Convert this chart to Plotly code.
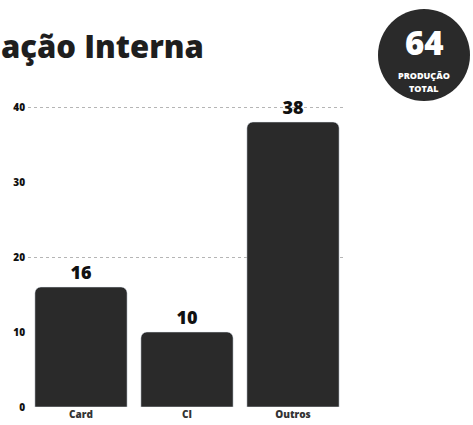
import plotly.graph_objects as go

categories = ["Card", "CI", "Outros"]
values = [16, 10, 38]
y_ticks = [0, 10, 20, 30, 40]
grid_vals = [20, 40]
total_value = 64
title_text = "ação Interna"
badge_line1 = "PRODUÇÃO"
badge_line2 = "TOTAL"

W, H = 473, 425
L, R, T, B = 28, 127, 104, 18
pw, ph = W - L - R, H - T - B

def px_x(px):
    return (px - L) / pw

def px_y(py):
    return (H - B - py) / ph

bar_color = "#2a2a2a"

fig = go.Figure(go.Bar(
    x=categories, y=values,
    marker=dict(color=bar_color, cornerradius=6),
    text=[str(v) for v in values],
    textposition="outside",
    textfont=dict(family="Open Sans", size=18, color="#111111", weight=800),
    cliponaxis=False,
))

fig.update_layout(
    width=W, height=H,
    margin=dict(l=L, r=R, t=T, b=B, autoexpand=False),
    paper_bgcolor="white", plot_bgcolor="white",
    bargap=0.13,
    showlegend=False,
    font=dict(family="Open Sans"),
    xaxis=dict(showgrid=False, showline=False, ticks="", automargin=False,
               tickfont=dict(size=10, color="#333333", family="Open Sans", weight=800)),
    yaxis=dict(range=[0, 40.4], tickvals=y_ticks, showline=False, zeroline=False,
               showgrid=False, automargin=False,
               minor=dict(tickvals=grid_vals, showgrid=True, gridcolor="#b5b5b5",
                          griddash="dot", gridwidth=1, ticks=""),
               tickfont=dict(size=10, color="#111111", family="Open Sans", weight=800),
               ticklabelstandoff=2),
)

fig.add_annotation(
    text=title_text, xref="paper", yref="paper",
    x=px_x(-1), y=px_y(46), xanchor="left", yanchor="middle",
    showarrow=False,
    font=dict(family="Open Sans", size=31, color="#1e1e1e", weight=800),
)

fig.add_shape(
    type="circle", xref="paper", yref="paper",
    xsizemode="pixel", ysizemode="pixel",
    xanchor=px_x(424), yanchor=px_y(55),
    x0=-46, x1=46, y0=-46, y1=46,
    fillcolor=bar_color, line=dict(width=0),
)
fig.add_annotation(
    text=str(total_value), xref="paper", yref="paper",
    x=px_x(424), y=px_y(43), xanchor="center", yanchor="middle",
    showarrow=False,
    font=dict(family="Open Sans", size=33, color="white", weight=800),
)
fig.add_annotation(
    text=badge_line1, xref="paper", yref="paper",
    x=px_x(424), y=px_y(75), xanchor="center", yanchor="middle",
    showarrow=False,
    font=dict(family="Open Sans", size=9, color="white", weight=800),
)
fig.add_annotation(
    text=badge_line2, xref="paper", yref="paper",
    x=px_x(424), y=px_y(89), xanchor="center", yanchor="middle",
    showarrow=False,
    font=dict(family="Open Sans", size=9, color="white", weight=800),
)

fig.write_html("out.html", config={"displayModeBar": False},
               post_script="document.body.style.margin='0';document.body.style.overflow='hidden';")
